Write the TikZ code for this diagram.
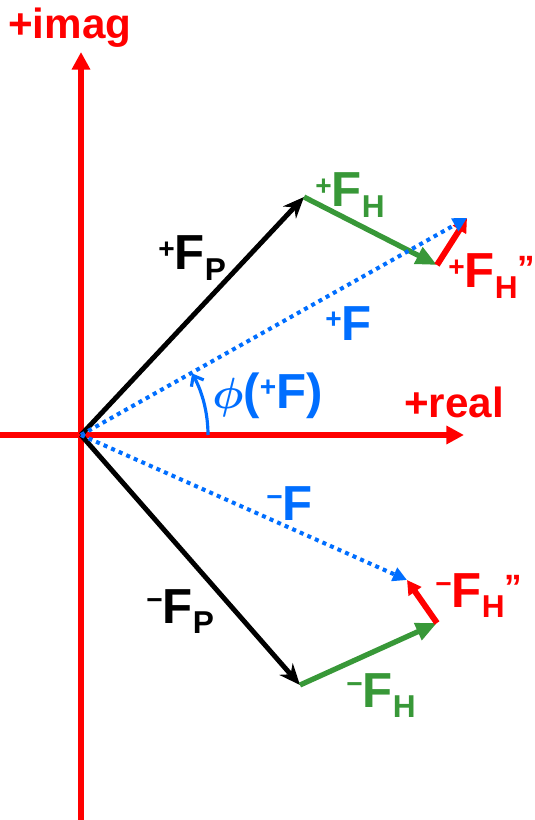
\documentclass[tikz,border=0pt]{standalone}
\usepackage{amsmath,amssymb,bm}
\usepackage{fontspec}
\setmainfont{Liberation Sans}
\usepackage{xcolor}
\usetikzlibrary{arrows.meta}
\definecolor{axred}{RGB}{255,0,0}
\definecolor{hgreen}{RGB}{56,152,56}
\definecolor{fblue}{RGB}{0,110,255}
\newcommand{\pl}{\raisebox{6.5pt}{\fontsize{16}{16}\selectfont +}}
\newcommand{\mn}{\raisebox{7.5pt}{\fontsize{16}{16}\selectfont −}}
\newcommand{\lowr}[1]{\raisebox{-6pt}{\fontsize{18}{18}\selectfont #1}}
\newcommand{\dq}{\raisebox{4pt}{\fontsize{20}{20}\selectfont ”}}

\begin{document}
\begin{tikzpicture}[x=0.02cm, y=-0.02cm,
        axis/.style={axred, line width=3.3pt,
                     -{Triangle[length=10pt, width=10pt]}},
        fp/.style={black, line width=2.8pt,
                   -{Stealth[length=12pt, width=10pt]}},
        fh/.style={hgreen, line width=3pt,
                   -{Triangle[length=12pt, width=10pt]}},
        fhh/.style={axred, line width=3.4pt,
                    -{Triangle[length=8pt, width=8.5pt]}},
        ftot/.style={fblue, line width=2.3pt, dash pattern=on 2.3pt off 2.4pt,
                     -{Triangle[length=8pt, width=8pt]}},
        lbl/.style={inner sep=0pt, anchor=base west,
                    font=\fontsize{28}{30}\selectfont\bfseries}
      ]
        \useasboundingbox (0,0) rectangle (534,820);
        \coordinate (O) at (81,435);
        \coordinate (Ybot) at (81,820);
        \coordinate (Ytop) at (81,52);
        \coordinate (Xlft) at (0,435);
        \coordinate (Xrgt) at (464,435);
        \coordinate (FPp) at (304,197);
        \coordinate (FHp) at (437,265);
        \coordinate (Fp) at (467,218);
        \coordinate (FPm) at (300,685);
        \coordinate (FHm) at (437,623);
        \coordinate (Fm) at (407,580);
        % axes
        \draw[axis] (Ybot) -- (Ytop);
        \draw[axis] (Xlft) -- (Xrgt);
        \node[lbl, axred, font=\fontsize{24}{26}\selectfont\bfseries]
              at (8,39) (imag) {+imag};
        \node[lbl, axred, font=\fontsize{24}{26}\selectfont\bfseries]
              at (404,417) (real) {+real};
        % Friedel mate +h
        \draw[fp] (O) -- (FPp);
        \draw[fh] (FPp) -- (FHp);
        \draw[fhh] (FHp) -- (Fp);
        \draw[ftot] (O) -- (Fp);
        % Friedel mate -h
        \draw[fp] (O) -- (FPm);
        \draw[fh] (FPm) -- (FHm);
        \draw[fhh] (FHm) -- (Fm);
        \draw[ftot] (O) -- (Fm);
        % phase angle
        \draw[fblue, line width=1.8pt, -{Straight Barb[length=5pt, width=8pt]}]
              (O) ++(127,0) arc[start angle=0, end angle=-29, radius=127];
        % labels
        \node[lbl] at (158,270) (lFPp) {\pl F\lowr{P}};
        \node[lbl, hgreen] at (315,207) (lFHp) {\pl F\lowr{H}};
        \node[lbl, axred] at (448,288) (lFHHp) {\pl F\lowr{H}\dq};
        \node[lbl, fblue] at (325,340) (lFp) {\pl F};
        \node[lbl, fblue] at (212,408) (lphi) {$\bm{\phi}$(\pl F)};
        \node[lbl, fblue] at (266,520) (lFm) {\mn F};
        \node[lbl] at (146,623) (lFPm) {\mn F\lowr{P}};
        \node[lbl, hgreen] at (346,707) (lFHm) {\mn F\lowr{H}};
        \node[lbl, axred] at (435,607) (lFHHm) {\mn F\lowr{H}\dq};
      \end{tikzpicture}
\end{document}
